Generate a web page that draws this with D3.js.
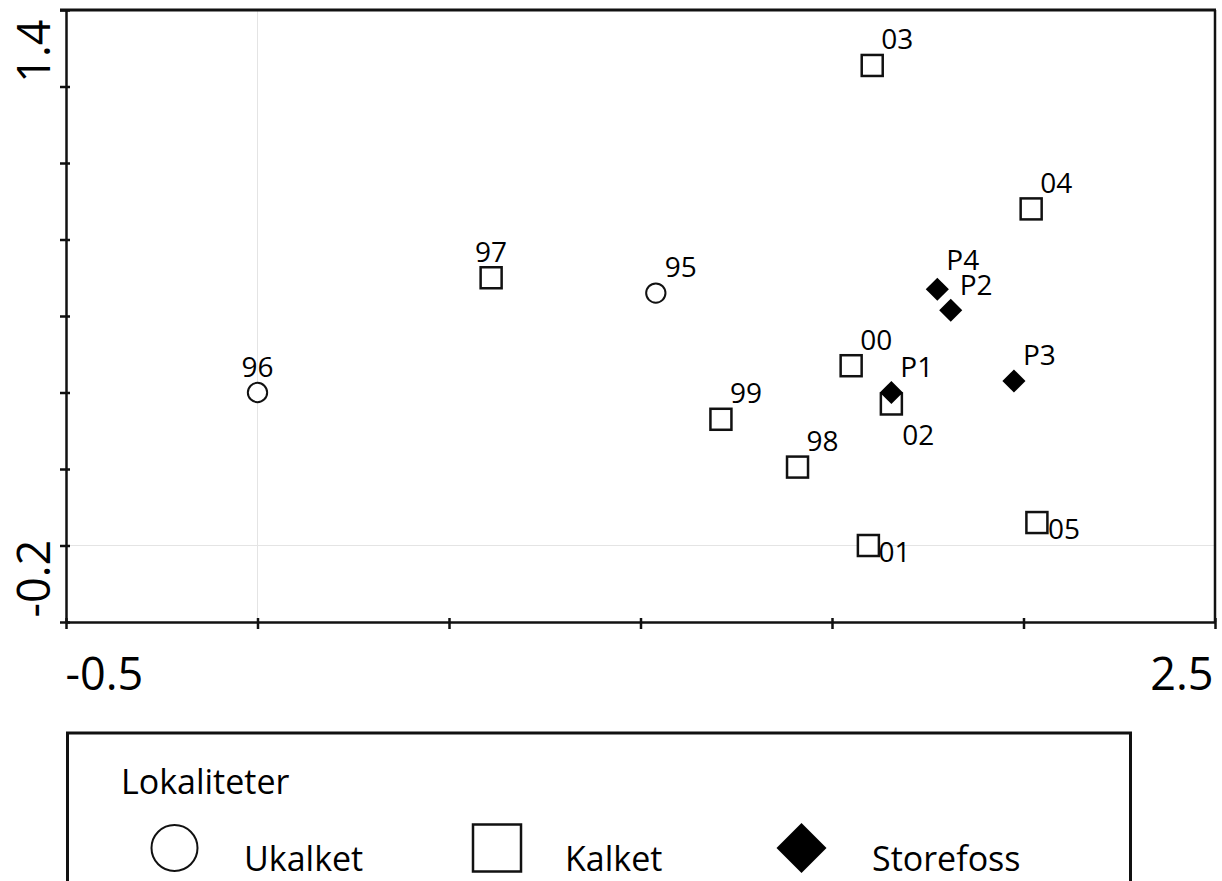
<!DOCTYPE html>
<html>
<head>
<meta charset="utf-8">
<script src="https://cdn.jsdelivr.net/npm/d3@7"></script>
<style>
  body { margin: 0; background: #fff; }
  svg { display: block; }
  text { font-family: "Open Sans", sans-serif; fill: #000; }
</style>
</head>
<body>
<svg id="chart" width="1222" height="881"></svg>
<script>
// Ordination scores per locality and year
const ukalketNames = ["96", "95"];
const ukalketX = [0.00, 1.04];
const ukalketY = [0.40, 0.66];

const kalketNames = ["97", "03", "04", "00", "02", "99", "98", "01", "05"];
const kalketX = [0.61, 1.605, 2.02, 1.55, 1.655, 1.21, 1.41, 1.595, 2.035];
const kalketY = [0.70, 1.255, 0.88, 0.47, 0.37, 0.33, 0.205, 0.00, 0.06];

const storefossNames = ["P4", "P2", "P1", "P3"];
const storefossX = [1.775, 1.81, 1.655, 1.975];
const storefossY = [0.67, 0.615, 0.40, 0.43];

const xTicks = [-0.5, 0, 0.5, 1, 1.5, 2, 2.5];
const yTicks = [-0.2, 0, 0.2, 0.4, 0.6, 0.8, 1.0, 1.2, 1.4];
const xLabelled = [-0.5, 2.5];
const yLabelled = [-0.2, 1.4];

const groupNames = ["Ukalket", "Kalket", "Storefoss"];
const legendTitle = "Lokaliteter";

const svg = d3.select("#chart");
const x = d3.scaleLinear().domain([-0.5, 2.5]).range([66, 1215]);
const y = d3.scaleLinear().domain([-0.2, 1.4]).range([622, 10]);

// light reference lines through the origin
svg.append("line")
  .attr("x1", x(0)).attr("x2", x(0)).attr("y1", y(1.4)).attr("y2", y(-0.2))
  .attr("stroke", "#e4e4e4").attr("stroke-width", 1);
svg.append("line")
  .attr("x1", x(-0.5)).attr("x2", x(2.5)).attr("y1", y(0)).attr("y2", y(0))
  .attr("stroke", "#e4e4e4").attr("stroke-width", 1);

// frame: top and right edges
svg.append("line")
  .attr("x1", x(-0.5) - 6).attr("x2", x(2.5) + 1).attr("y1", y(1.4)).attr("y2", y(1.4))
  .attr("stroke", "#111").attr("stroke-width", 3);
svg.append("line")
  .attr("x1", x(2.5)).attr("x2", x(2.5)).attr("y1", y(1.4)).attr("y2", y(-0.2))
  .attr("stroke", "#111").attr("stroke-width", 2.5);

// bottom axis
const gx = svg.append("g")
  .attr("transform", `translate(0,${y(-0.2)})`)
  .call(d3.axisBottom(x).tickValues(xTicks).tickSize(7).tickSizeOuter(0)
    .tickFormat(d => xLabelled.includes(d) ? String(d) : ""));
gx.select(".domain").attr("stroke", "#111").attr("stroke-width", 2.5);
gx.selectAll(".tick line").attr("stroke", "#111").attr("stroke-width", 2.5).attr("y1", -4).attr("y2", 7);
gx.selectAll(".tick text")
  .attr("y", 68).attr("dy", null)
  .attr("x", d => d === xLabelled[0] ? -1 : -2)
  .attr("text-anchor", d => d === xLabelled[0] ? "start" : "end")
  .style("font-size", "45px").style("font-family", "'Open Sans', sans-serif").attr("fill", "#000");

// left axis
const gy = svg.append("g")
  .attr("transform", `translate(${x(-0.5)},0)`)
  .call(d3.axisLeft(y).tickValues(yTicks).tickSize(6).tickSizeOuter(0)
    .tickFormat(d => yLabelled.includes(d) ? String(d) : ""));
gy.select(".domain").attr("stroke", "#111").attr("stroke-width", 2.5);
gy.selectAll(".tick line").attr("stroke", "#111").attr("stroke-width", 2.5).attr("x1", 4).attr("x2", -6);
gy.selectAll(".tick text")
  .attr("transform", "rotate(-90)")
  .attr("dy", null)
  .attr("y", -16)
  .attr("x", d => d === yLabelled[0] ? 5 : -9)
  .attr("text-anchor", d => d === yLabelled[0] ? "start" : "end")
  .style("font-size", "45px").style("font-family", "'Open Sans', sans-serif").attr("fill", "#000");

// points
const points = [
  ...ukalketNames.map((n, i) => ({ name: n, group: groupNames[0], x: ukalketX[i], y: ukalketY[i] })),
  ...kalketNames.map((n, i) => ({ name: n, group: groupNames[1], x: kalketX[i], y: kalketY[i] })),
  ...storefossNames.map((n, i) => ({ name: n, group: groupNames[2], x: storefossX[i], y: storefossY[i] }))
];

function drawSymbol(sel, group, size) {
  if (group === groupNames[0]) {
    sel.append("circle").attr("r", size * 0.46)
      .attr("fill", "#fff").attr("stroke", "#111").attr("stroke-width", 2);
  } else if (group === groupNames[1]) {
    sel.append("rect").attr("x", -size / 2).attr("y", -size / 2)
      .attr("width", size).attr("height", size)
      .attr("fill", "#fff").attr("stroke", "#111").attr("stroke-width", 2.5);
  } else {
    const h = size * 0.55;
    sel.append("path").attr("d", `M0,${-h}L${h},0L0,${h}L${-h},0Z`).attr("fill", "#000");
  }
}

const marks = svg.append("g");
points.forEach(p => {
  const g = marks.append("g").attr("transform", `translate(${x(p.x)},${y(p.y)})`);
  drawSymbol(g, p.group, 21);
});

// point labels
const labelPlacement = {
  "96": { dx: 0, dy: -16, anchor: "middle" },
  "97": { dx: 0, dy: -16, anchor: "middle" },
  "01": { dx: 10, dy: 16, anchor: "start" },
  "05": { dx: 11, dy: 16, anchor: "start" },
  "02": { dx: 11, dy: 41, anchor: "start" },
  "P4": { dx: 9, dy: -19, anchor: "start" },
  "P2": { dx: 9, dy: -15, anchor: "start" }
};
const labels = svg.append("g").style("font-size", "28px");
points.forEach(p => {
  const pl = labelPlacement[p.name] || { dx: 9, dy: -16, anchor: "start" };
  labels.append("text")
    .attr("x", x(p.x) + pl.dx).attr("y", y(p.y) + pl.dy)
    .attr("text-anchor", pl.anchor)
    .text(p.name);
});

// legend
const legend = svg.append("g");
legend.append("rect")
  .attr("x", 67.5).attr("y", 733).attr("width", 1063).attr("height", 200)
  .attr("fill", "none").attr("stroke", "#111").attr("stroke-width", 3);
legend.append("text").attr("x", 121).attr("y", 794).style("font-size", "34px").text(legendTitle);

const legendSymbolX = [174.5, 497, 801.5];
const legendTextX = [244, 565, 872];
groupNames.forEach((name, i) => {
  const g = legend.append("g").attr("transform", `translate(${legendSymbolX[i]},848)`);
  if (i === 0) {
    g.append("circle").attr("r", 23).attr("fill", "#fff").attr("stroke", "#111").attr("stroke-width", 2);
  } else if (i === 1) {
    g.append("rect").attr("x", -24).attr("y", -23.5).attr("width", 48).attr("height", 47)
      .attr("fill", "#fff").attr("stroke", "#111").attr("stroke-width", 2.5);
  } else {
    g.append("path").attr("d", "M0,-25L25,0L0,25L-25,0Z").attr("fill", "#000");
  }
  legend.append("text").attr("x", legendTextX[i]).attr("y", 871).style("font-size", "34px").text(name);
});
</script>
</body>
</html>
